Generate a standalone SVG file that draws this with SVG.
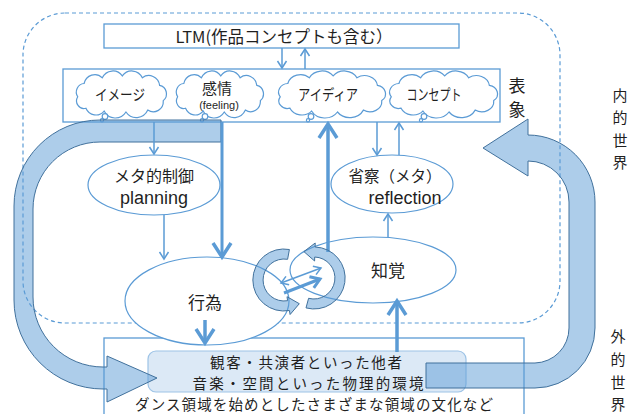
<svg xmlns="http://www.w3.org/2000/svg" xmlns:xlink="http://www.w3.org/1999/xlink" width="630" height="414" viewBox="0 0 630 414">
<style>
.t{font-family:"Noto Sans CJK JP","Noto Sans",sans-serif;fill:#1f1f1f;text-anchor:middle}
.l{font-family:"Liberation Sans","Noto Sans",sans-serif;fill:#1f1f1f;text-anchor:middle}
.box{fill:#fff;stroke:#5b9bd5;stroke-width:1.3}
.ell{fill:#fff;stroke:#5b9bd5;stroke-width:1.2}
.cl{fill:#fff;stroke:#5b9bd5;stroke-width:1.2}
.big{fill:#5b9bd5;fill-opacity:0.5;stroke:#41719c;stroke-width:1}
.thin{fill:none;stroke:#5b9bd5;stroke-width:1.5}
.thick{fill:none;stroke:#5b9bd5;stroke-width:3.5}
</style>
<defs>
<path id="cloud" vector-effect="non-scaling-stroke" d="M3,24 A9,9 0 0 1 10,10 A12,12 0 0 1 30,4 A13,13 0 0 1 52,2 A13,13 0 0 1 74,4 A12,12 0 0 1 93,12 A9,9 0 0 1 97,28 A11,11 0 0 1 80,38 A14,14 0 0 1 56,40 A14,14 0 0 1 32,39 A12,12 0 0 1 12,36 A8,8 0 0 1 3,24 Z"/>
<marker id="ah" markerUnits="userSpaceOnUse" markerWidth="12" markerHeight="12" viewBox="0 0 12 12" refX="10" refY="6" orient="auto-start-reverse"><path d="M3,1.5 L10,6 L3,10.5" fill="none" stroke="#5b9bd5" stroke-width="1.5"/></marker>
<marker id="ahb" markerUnits="userSpaceOnUse" markerWidth="24" markerHeight="24" viewBox="0 0 24 24" refX="20" refY="12" orient="auto"><path d="M6,3 L20,12 L6,21" fill="none" stroke="#5b9bd5" stroke-width="3.5"/></marker>
<marker id="ahm" markerUnits="userSpaceOnUse" markerWidth="16" markerHeight="16" viewBox="0 0 16 16" refX="13" refY="8" orient="auto"><path d="M4,2 L13,8 L4,14" fill="none" stroke="#5b9bd5" stroke-width="3"/></marker>
</defs>

<rect x="23" y="13" width="537" height="310" rx="42" fill="none" stroke="#5b9bd5" stroke-width="1.2" stroke-dasharray="4 3"/>

<g id="ltm">
<rect class="box" x="104" y="24" width="355" height="24"/>
<text class="t" x="284" y="43" font-size="16.5">LTM(作品コンセプトも含む）</text>
</g>

<g id="hyosho">
<rect class="box" x="63" y="69" width="437" height="53"/>
<text class="t" x="517" y="92" font-size="17">表</text>
<text class="t" x="517" y="116" font-size="17">象</text>
</g>

<g id="cloud-image">
<use href="#cloud" class="cl" transform="translate(75,74) scale(0.91,0.95)"/>
<circle class="cl" cx="105" cy="116.5" r="2.8"/><circle class="cl" cx="102" cy="120.3" r="1.6"/>
<text class="t" x="120" y="100" font-size="15" textLength="50" lengthAdjust="spacingAndGlyphs">イメージ</text>
</g>
<g id="cloud-feeling">
<use href="#cloud" class="cl" transform="translate(175,74) scale(0.88,0.95)"/>
<circle class="cl" cx="205" cy="116.5" r="2.8"/><circle class="cl" cx="202" cy="120.3" r="1.6"/>
<text class="t" x="217" y="94" font-size="15">感情</text>
<text class="l" x="219" y="108.5" font-size="11">(feeling)</text>
</g>
<g id="cloud-idea">
<use href="#cloud" class="cl" transform="translate(277,74) scale(1.08,0.95)"/>
<circle class="cl" cx="311" cy="116.5" r="2.8"/><circle class="cl" cx="308" cy="120.3" r="1.6"/>
<text class="t" x="328" y="100" font-size="15" textLength="60" lengthAdjust="spacingAndGlyphs">アイディア</text>
</g>
<g id="cloud-concept">
<use href="#cloud" class="cl" transform="translate(388,74) scale(1.09,0.95)"/>
<circle class="cl" cx="424" cy="116.5" r="2.8"/><circle class="cl" cx="421" cy="120.3" r="1.6"/>
<text class="t" x="434" y="100" font-size="15" textLength="55" lengthAdjust="spacingAndGlyphs">コンセプト</text>
</g>

<g id="outer-world">
<rect class="box" x="104" y="338" width="420" height="80"/>
<rect x="148" y="351" width="318" height="41" rx="8" fill="#dce9f6" stroke="#9dc3e6" stroke-width="1.2"/>
<text class="t" x="306" y="368" font-size="14.5" textLength="192" lengthAdjust="spacing">観客・共演者といった他者</text>
<text class="t" x="308" y="389.2" font-size="14.5" textLength="231" lengthAdjust="spacing">音楽・空間といった物理的環境</text>
<text class="t" x="314" y="410.4" font-size="14.5" textLength="358" lengthAdjust="spacing">ダンス領域を始めとしたさまざまな領域の文化など</text>
</g>

<g id="big-arrows">
<path class="big" d="M221,120 L100,120 A86,86 0 0 0 14,206 L14,300 A89,89 0 0 0 103,389 L107,389 L107,402 L157,378 L107,356 L107,367 L103,367 A70,70 0 0 1 33,297 L33,209 A67,67 0 0 1 100,142 L221,142 Z"/>
<path class="big" d="M426,388 L535,388 A60,60 0 0 0 595,328 L595,202 A67,67 0 0 0 528,135 L528,119 L483,148 L528,176 L528,161 A41,41 0 0 1 569,202 L569,328 A35,35 0 0 1 535,363 L426,363 Z"/>
</g>

<g id="meta">
<ellipse class="ell" cx="154" cy="185" rx="66" ry="30"/>
<text class="t" x="154" y="182" font-size="16">メタ的制御</text>
<text class="l" x="154" y="204" font-size="18">planning</text>
</g>
<g id="reflection">
<ellipse class="ell" cx="392" cy="184" rx="61" ry="29"/>
<text class="t" x="395" y="182" font-size="15.5">省察（メタ）</text>
<text class="l" x="405" y="204" font-size="18">reflection</text>
</g>
<g id="koui">
<ellipse class="ell" cx="207" cy="301" rx="82" ry="44"/>
<text class="t" x="205" y="309" font-size="17">行為</text>
</g>
<g id="chikaku">
<ellipse class="ell" cx="373" cy="270" rx="83" ry="33"/>
<text class="t" x="388" y="277" font-size="17">知覚</text>
</g>

<g id="connectors">
<line class="thin" x1="282" y1="48" x2="282" y2="68" marker-end="url(#ah)"/>
<line class="thin" x1="305" y1="69" x2="305" y2="49" marker-end="url(#ah)"/>
<line class="thin" x1="154" y1="122" x2="154" y2="154" marker-end="url(#ah)"/>
<line class="thin" x1="164" y1="215" x2="164" y2="259" marker-end="url(#ah)"/>
<line class="thin" x1="377" y1="122" x2="377" y2="155" marker-end="url(#ah)"/>
<line class="thin" x1="399" y1="155" x2="399" y2="123" marker-end="url(#ah)"/>
<line class="thin" x1="388" y1="237" x2="388" y2="214" marker-end="url(#ah)"/>
<line class="thick" style="stroke-width:3" x1="222" y1="122" x2="222" y2="257" marker-end="url(#ahb)"/>
<line class="thick" x1="328" y1="252" x2="328" y2="124" marker-end="url(#ahb)"/>
<line class="thick" x1="205" y1="320" x2="205" y2="343" marker-end="url(#ahb)"/>
<line class="thick" x1="397" y1="352" x2="397" y2="301" marker-end="url(#ahb)"/>
<line class="thin" x1="281" y1="283" x2="321" y2="268" marker-start="url(#ah)" marker-end="url(#ah)"/>
<line class="thick" style="stroke-width:3" x1="284" y1="293" x2="320" y2="279" marker-end="url(#ahm)"/>
</g>

<g id="cycle">
<path class="big" d="M289.4,249.5 A31,31 0 1 0 289.4,310.5 L290.1,314.5 L299.3,303.7 L287,296.7 L287.6,300.7 A21,21 0 1 1 287.6,259.3 Z"/>
<path class="big" d="M306,307.9 A31,31 0 1 0 315.1,247 L315.2,243 L303.9,251.6 L314.6,261 L314.7,257 A21,21 0 1 1 308.6,298.3 Z"/>
</g>

<g id="labels">
<text class="t" x="620" y="101" font-size="15">内</text>
<text class="t" x="620" y="123" font-size="15">的</text>
<text class="t" x="620" y="146" font-size="15">世</text>
<text class="t" x="620" y="168" font-size="15">界</text>
<text class="t" x="618" y="342" font-size="15">外</text>
<text class="t" x="618" y="365" font-size="15">的</text>
<text class="t" x="618" y="388" font-size="15">世</text>
<text class="t" x="618" y="410" font-size="15">界</text>
</g>
</svg>
